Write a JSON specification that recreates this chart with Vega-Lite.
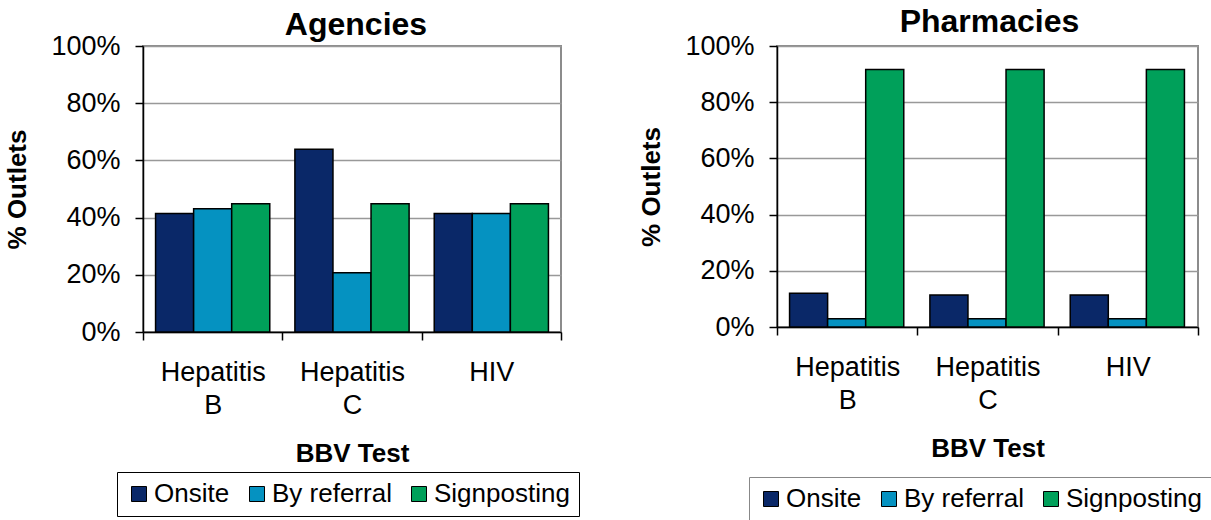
{
  "$schema": "https://vega.github.io/schema/vega-lite/v6.json",
  "padding": {"left": 3, "top": 4, "right": 0, "bottom": 0},
  "background": "white",
  "spacing": 56,
  "resolve": {"scale": {"color": "independent"}, "legend": {"color": "independent"}},
  "data": {
    "values": [
      {"outlet": "Agencies", "test": "Hepatitis B", "method": "Onsite", "pct": 0.414},
      {"outlet": "Agencies", "test": "Hepatitis B", "method": "By referral", "pct": 0.431},
      {"outlet": "Agencies", "test": "Hepatitis B", "method": "Signposting", "pct": 0.448},
      {"outlet": "Agencies", "test": "Hepatitis C", "method": "Onsite", "pct": 0.639},
      {"outlet": "Agencies", "test": "Hepatitis C", "method": "By referral", "pct": 0.207},
      {"outlet": "Agencies", "test": "Hepatitis C", "method": "Signposting", "pct": 0.448},
      {"outlet": "Agencies", "test": "HIV", "method": "Onsite", "pct": 0.414},
      {"outlet": "Agencies", "test": "HIV", "method": "By referral", "pct": 0.414},
      {"outlet": "Agencies", "test": "HIV", "method": "Signposting", "pct": 0.448},
      {"outlet": "Pharmacies", "test": "Hepatitis B", "method": "Onsite", "pct": 0.120},
      {"outlet": "Pharmacies", "test": "Hepatitis B", "method": "By referral", "pct": 0.029},
      {"outlet": "Pharmacies", "test": "Hepatitis B", "method": "Signposting", "pct": 0.916},
      {"outlet": "Pharmacies", "test": "Hepatitis C", "method": "Onsite", "pct": 0.114},
      {"outlet": "Pharmacies", "test": "Hepatitis C", "method": "By referral", "pct": 0.029},
      {"outlet": "Pharmacies", "test": "Hepatitis C", "method": "Signposting", "pct": 0.916},
      {"outlet": "Pharmacies", "test": "HIV", "method": "Onsite", "pct": 0.114},
      {"outlet": "Pharmacies", "test": "HIV", "method": "By referral", "pct": 0.029},
      {"outlet": "Pharmacies", "test": "HIV", "method": "Signposting", "pct": 0.916}
    ]
  },
  "config": {
    "font": "Liberation Sans",
    "view": {"stroke": "#8c8c8c", "strokeWidth": 2},
    "axis": {
      "labelFont": "Liberation Sans", "labelFontSize": 27, "labelColor": "black",
      "titleFont": "Liberation Sans", "titleFontSize": 26, "titleFontWeight": "bold", "titleColor": "black",
      "domainColor": "black", "tickColor": "black", "tickSize": 8, "domainWidth": 1.5, "tickWidth": 1.5
    },
    "axisY": {"gridColor": "#999999", "gridWidth": 1.5, "labelPadding": 15, "titlePadding": 20},
    "axisX": {"labelAngle": 0, "labelPadding": 19, "labelLineHeight": 33, "titlePadding": 22, "tickBand": "extent", "grid": false},
    "title": {"font": "Liberation Sans", "fontSize": 32, "fontWeight": "bold", "color": "black"},
    "legend": {
      "orient": "none", "direction": "horizontal", "title": null, "padding": 9,
      "symbolType": "square", "symbolSize": 225, "symbolStrokeColor": "black", "symbolStrokeWidth": 1,
      "symbolOpacity": 1, "labelFont": "Liberation Sans", "labelFontSize": 26, "labelColor": "black",
      "labelOffset": 2, "columnPadding": 14, "fillColor": "white"
    }
  },
  "hconcat": [
    {
      "title": {"text": "Agencies", "offset": -9.5, "dx": 4},
      "width": 418,
      "height": 286,
      "transform": [{"filter": "datum.outlet === 'Agencies'"}],
      "mark": {"type": "bar", "stroke": "black", "strokeWidth": 1.5},
      "encoding": {
        "x": {"field": "test", "type": "nominal", "sort": ["Hepatitis B", "Hepatitis C", "HIV"],
              "scale": {"paddingInner": 0, "paddingOuter": 0},
              "axis": {"title": "BBV Test", "labelExpr": "split(datum.label, ' ')"}},
        "xOffset": {"field": "method", "type": "nominal", "sort": ["Onsite", "By referral", "Signposting"],
                    "scale": {"paddingInner": 0, "paddingOuter": 0.33}},
        "y": {"field": "pct", "type": "quantitative", "scale": {"domain": [0, 1]},
              "axis": {"title": "% Outlets", "format": ".0%", "values": [0, 0.2, 0.4, 0.6, 0.8, 1]}},
        "color": {"field": "method", "type": "nominal",
                  "scale": {"domain": ["Onsite", "By referral", "Signposting"], "range": ["#0a2868", "#0592c1", "#00a05a"]},
                  "legend": {"legendX": -26, "legendY": 426, "strokeColor": "black"}}
      }
    },
    {
      "title": {"text": "Pharmacies", "offset": -6.5, "dx": 2},
      "width": 421,
      "height": 281,
      "transform": [{"filter": "datum.outlet === 'Pharmacies'"}],
      "mark": {"type": "bar", "stroke": "black", "strokeWidth": 1.5},
      "encoding": {
        "x": {"field": "test", "type": "nominal", "sort": ["Hepatitis B", "Hepatitis C", "HIV"],
              "scale": {"paddingInner": 0, "paddingOuter": 0},
              "axis": {"title": "BBV Test", "labelExpr": "split(datum.label, ' ')"}},
        "xOffset": {"field": "method", "type": "nominal", "sort": ["Onsite", "By referral", "Signposting"],
                    "scale": {"paddingInner": 0, "paddingOuter": 0.33}},
        "y": {"field": "pct", "type": "quantitative", "scale": {"domain": [0, 1]},
              "axis": {"title": "% Outlets", "format": ".0%", "values": [0, 0.2, 0.4, 0.6, 0.8, 1]}},
        "color": {"field": "method", "type": "nominal",
                  "scale": {"domain": ["Onsite", "By referral", "Signposting"], "range": ["#0a2868", "#0592c1", "#00a05a"]},
                  "legend": {"legendX": -28, "legendY": 431, "strokeColor": "#888888"}}
      }
    }
  ]
}
